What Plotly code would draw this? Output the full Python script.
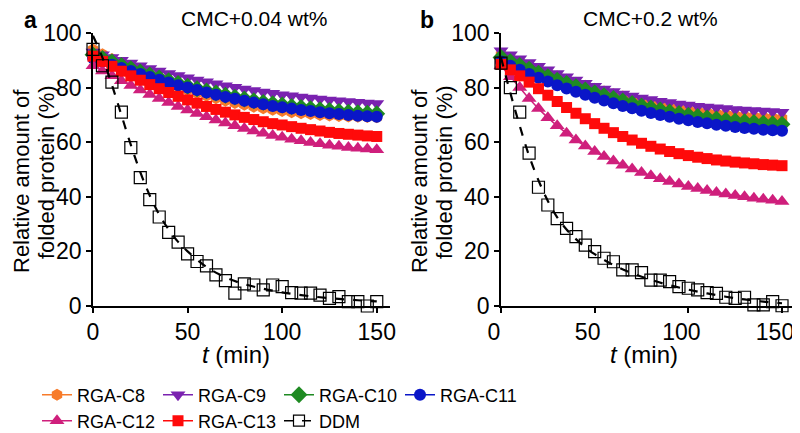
"""Folded-protein stability of RGA detergents vs DDM at two concentrations."""

import plotly.graph_objects as go

T = list(range(0, 155, 5))
FIT_T = [0, 5, 10, 15, 20, 25, 30, 35, 40, 45, 50, 60, 70, 80, 90, 100, 110, 120, 130, 140, 150]

NAMES = ["RGA-C8", "RGA-C9", "RGA-C10", "RGA-C11", "RGA-C12", "RGA-C13"]
COLORS = ["#F77B2A", "#7A22B0", "#1E8A22", "#0A16C8", "#CF1F7C", "#FF0A0A"]
SYMBOLS = ["hexagon", "triangle-down", "diamond", "circle", "triangle-up", "square"]
SIZES = [12, 13, 13, 12, 13, 11]

# panel a: CMC + 0.04 wt%
A_C8 = [94.0, 92.2, 90.5, 88.8, 87.2, 85.7, 84.2, 82.8, 81.5, 80.3, 79.1, 78.0, 77.0, 76.1, 75.2, 74.4,
        73.7, 73.0, 72.4, 71.9, 71.4, 71.0, 70.6, 70.3, 70.0, 69.8, 69.6, 69.4, 69.3, 69.2, 69.1]
A_C9 = [93.0, 92.0, 91.0, 90.0, 89.0, 88.0, 87.0, 86.1, 85.2, 84.4, 83.6, 82.8, 82.1, 81.4, 80.7, 80.1,
        79.5, 78.9, 78.4, 77.9, 77.4, 77.0, 76.6, 76.2, 75.8, 75.5, 75.2, 74.9, 74.6, 74.4, 74.2]
A_C10 = [92.0, 90.7, 89.4, 88.1, 86.9, 85.7, 84.6, 83.5, 82.5, 81.5, 80.5, 79.6, 78.8, 78.0, 77.2, 76.5,
         75.8, 75.2, 74.6, 74.1, 73.6, 73.1, 72.7, 72.3, 71.9, 71.6, 71.3, 71.0, 70.8, 70.6, 70.4]
A_C11 = [90.8, 89.6, 88.4, 87.2, 86.1, 85.0, 83.9, 82.9, 81.9, 80.9, 80.0, 79.1, 78.2, 77.4, 76.6, 75.9,
         75.2, 74.5, 73.9, 73.3, 72.8, 72.3, 71.8, 71.4, 71.0, 70.6, 70.3, 70.0, 69.7, 69.5, 69.3]
A_C12 = [88.0, 86.1, 84.3, 82.5, 80.8, 79.1, 77.5, 76.0, 74.5, 73.1, 71.8, 70.5, 69.3, 68.1, 67.0, 66.0,
         65.0, 64.1, 63.3, 62.5, 61.8, 61.1, 60.5, 59.9, 59.4, 58.9, 58.5, 58.1, 57.8, 57.5, 57.2]
A_C13 = [91.5, 89.6, 87.8, 86.0, 84.3, 82.7, 81.1, 79.6, 78.2, 76.8, 75.5, 74.3, 73.1, 72.0, 71.0, 70.0,
         69.1, 68.3, 67.5, 66.8, 66.3, 65.7, 65.1, 64.6, 64.1, 63.6, 63.2, 62.9, 62.6, 62.3, 62.1]
A_DDM = [94.0, 88.0, 82.0, 71.0, 58.0, 47.0, 39.0, 32.6, 27.0, 23.4, 19.1, 16.3, 14.7, 11.4, 9.3, 4.7,
         8.1, 7.7, 5.9, 7.7, 7.1, 4.9, 4.7, 4.7, 4.0, 2.8, 3.4, 1.6, 1.6, 0.0, 1.6]
A_DDM_FIT = [99, 91, 81, 70, 59, 49, 40.5, 33.5, 28, 23.5, 20, 14.3, 10.5, 8, 6.3, 5, 4, 3.2, 2.6, 2.1, 1.7]

# panel b: CMC + 0.2 wt%
B_C8 = [92.0, 90.6, 89.2, 87.9, 86.6, 85.3, 84.1, 82.9, 81.8, 80.7, 79.6, 78.6, 77.6, 76.7, 75.8, 75.0,
        74.3, 73.6, 72.9, 72.3, 71.8, 71.3, 70.9, 70.5, 70.2, 69.9, 69.6, 69.4, 69.2, 69.0, 68.8]
B_C9 = [93.5, 92.0, 90.6, 89.2, 87.8, 86.5, 85.2, 84.0, 82.8, 81.6, 80.5, 79.5, 78.6, 77.7, 76.9, 76.2,
        75.6, 75.0, 74.5, 74.0, 73.6, 73.2, 72.9, 72.6, 72.3, 72.0, 71.8, 71.6, 71.4, 71.2, 71.0]
B_C10 = [91.0, 89.5, 88.1, 86.7, 85.3, 84.0, 82.7, 81.5, 80.3, 79.1, 78.0, 77.0, 76.0, 75.1, 74.2, 73.3,
         72.5, 71.8, 71.1, 70.5, 69.9, 69.4, 68.9, 68.5, 68.1, 67.8, 67.5, 67.2, 67.0, 66.8, 66.6]
B_C11 = [89.6, 88.0, 86.5, 85.0, 83.6, 82.2, 80.9, 79.7, 78.5, 77.4, 76.3, 75.3, 74.3, 73.3, 72.4, 71.5,
         70.7, 70.0, 69.3, 68.6, 68.0, 67.4, 66.9, 66.4, 66.0, 65.6, 65.2, 64.9, 64.6, 64.4, 64.2]
B_C12 = [88.0, 84.0, 80.0, 76.0, 72.3, 69.0, 66.0, 63.3, 60.8, 58.6, 56.6, 54.8, 53.1, 51.6, 50.2, 48.9,
         47.7, 46.6, 45.6, 44.7, 43.8, 43.0, 42.3, 41.6, 41.0, 40.5, 40.0, 39.5, 39.1, 38.7, 38.3]
B_C13 = [88.5, 86.5, 84.3, 82.0, 79.6, 77.2, 74.9, 72.7, 70.6, 68.6, 66.8, 65.1, 63.5, 62.1, 60.8, 59.6,
         58.5, 57.5, 56.6, 55.8, 55.1, 54.5, 54.0, 53.5, 53.1, 52.7, 52.4, 52.1, 51.8, 51.6, 51.4]
B_DDM = [89.0, 80.0, 71.0, 56.0, 43.5, 37.0, 32.0, 28.4, 25.4, 22.3, 19.9, 17.5, 16.2, 13.2, 13.2, 12.2,
         9.5, 9.5, 8.9, 7.1, 6.5, 5.9, 4.9, 4.6, 3.2, 2.8, 3.2, 0.4, 0.4, 1.6, 0.1]
B_DDM_FIT = [91, 78, 66, 55, 46, 38.5, 32.5, 28, 24.5, 21.5, 19, 15, 12, 9.6, 7.6, 6, 4.6, 3.4, 2.4, 1.6, 1.0]

PANELS = [
    ("x", "y", [A_C8, A_C9, A_C10, A_C11, A_C12, A_C13], A_DDM, A_DDM_FIT),
    ("x2", "y2", [B_C8, B_C9, B_C10, B_C11, B_C12, B_C13], B_DDM, B_DDM_FIT),
]

FONT = "Liberation Sans, Arial, Helvetica, sans-serif"
# page body has an 8px margin, so the figure is laid out in window pixels minus that offset
OFF = 8
W, H = 800 - OFF, 433 - OFF


def px_x(px):
    return (px - OFF) / W


def px_y(py):
    return 1 - (py - OFF) / H


fig = go.Figure()

for i, (xa, ya, series, ddm, ddm_fit) in enumerate(PANELS):
    first = i == 0
    for j, vals in enumerate(series):
        fig.add_trace(go.Scatter(
            x=T, y=vals, xaxis=xa, yaxis=ya, name=NAMES[j],
            mode="lines+markers", line=dict(color=COLORS[j], width=1.5, shape="spline"),
            marker=dict(symbol=SYMBOLS[j], size=SIZES[j], color=COLORS[j], line=dict(width=0)),
            cliponaxis=False, showlegend=first,
            legend="legend" if j < 4 else "legend2",
        ))
    fig.add_trace(go.Scatter(
        x=FIT_T, y=ddm_fit, xaxis=xa, yaxis=ya, mode="lines",
        line=dict(color="black", width=2.2, dash="dash", shape="spline"),
        showlegend=False, cliponaxis=False,
    ))
    fig.add_trace(go.Scatter(
        x=T, y=ddm, xaxis=xa, yaxis=ya, name="DDM", mode="markers",
        marker=dict(symbol="square-open", size=12, color="black", line=dict(width=1.2)),
        showlegend=False, cliponaxis=False,
    ))

# legend-only entry so DDM shows square + dashed stub
fig.add_trace(go.Scatter(
    x=[None], y=[None], name="DDM", mode="lines+markers",
    line=dict(color="black", width=1.5, dash="dash"),
    marker=dict(symbol="square-open", size=11, color="black", line=dict(width=1.2)),
    legend="legend2",
))

axis_common = dict(
    showline=True, linecolor="black", linewidth=1.5, automargin=False,
    ticks="outside", ticklen=5, tickwidth=1.5, tickcolor="black",
    showgrid=False, zeroline=False, tickfont=dict(size=23, color="black"),
    tickvals=[0, 50, 100, 150], ticklabeloverflow="allow",
)
yaxis_common = dict(
    range=[0, 100], showline=True, linecolor="black", linewidth=1.5, automargin=False,
    ticks="outside", ticklen=5, tickwidth=1.5, tickcolor="black",
    showgrid=False, zeroline=False, tickfont=dict(size=23, color="black"),
    tickvals=[0, 20, 40, 60, 80, 100], domain=[px_y(306), px_y(33)],
)

legend_common = dict(
    orientation="h", xanchor="left", yanchor="middle", x=px_x(37),
    font=dict(size=18, color="black", family=FONT),
    entrywidth=76, entrywidthmode="pixels", bgcolor="rgba(0,0,0,0)",
    itemclick=False,
)

fig.update_layout(
    width=W, height=H, margin=dict(l=0, r=0, t=0, b=0, autoexpand=False),
    plot_bgcolor="white", paper_bgcolor="white",
    font=dict(family=FONT, color="black"),
    xaxis=dict(axis_common, range=[0, 157], domain=[px_x(93), px_x(390)], anchor="y"),
    yaxis=dict(yaxis_common, anchor="x"),
    xaxis2=dict(axis_common, range=[0, 158], domain=[px_x(501), px_x(797)], anchor="y2",
                ticklabelshift=-7),
    yaxis2=dict(yaxis_common, anchor="x2"),
    legend=dict(legend_common, y=px_y(395)),
    legend2=dict(legend_common, y=px_y(421)),
)

ann = [
    ("<b>a</b>", 30, 20, 23, 0),
    ("CMC+0.04 wt%", 254, 19, 21, 0),
    ("<b>b</b>", 427, 20, 23, 0),
    ("CMC+0.2 wt%", 650, 19, 21, 0),
    ("Relative amount of", 22, 181, 22, -90),
    ("folded protein (%)", 46, 172, 22, -90),
    ("Relative amount of", 420, 181, 22, -90),
    ("folded protein (%)", 444, 172, 22, -90),
    ("<i>t</i> (min)", 236, 354, 24, 0),
    ("<i>t</i> (min)", 644, 354, 24, 0),
]
for text, px, py, size, angle in ann:
    fig.add_annotation(
        text=text, x=px_x(px), y=px_y(py), xref="paper", yref="paper",
        showarrow=False, textangle=angle, font=dict(size=size, color="black"),
        xanchor="center", yanchor="middle",
    )

fig.write_html("out.html")
